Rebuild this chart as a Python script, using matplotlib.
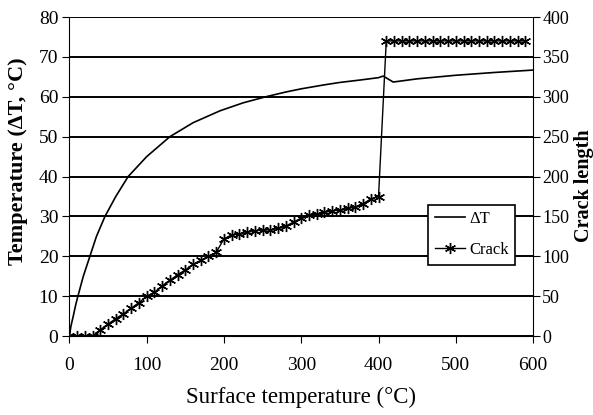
import numpy as np
import matplotlib.pyplot as plt

plt.rcParams['font.family'] = ['Liberation Serif', 'DejaVu Serif']

# Delta T curve (left axis)
dt_x = [0, 2, 5, 8, 11, 18, 26.5, 35, 46, 60, 76, 100, 130, 160, 195, 225, 254, 280, 300,
        330, 350, 376, 400, 406, 419, 450, 500, 550, 600]
dt_y = [0, 2.5, 5, 7.7, 10, 15, 20, 25, 30, 35, 40, 45, 50, 53.5, 56.5, 58.5, 60, 61.2, 62,
        63, 63.6, 64.2, 64.8, 65.2, 63.7, 64.5, 65.4, 66.1, 66.7]

# Crack length (right axis)
crack_x = list(range(0, 401, 10)) + list(range(410, 591, 10))
crack_y = [0, 0, 0, 0, 8, 15, 22, 28, 35, 42, 50, 55, 63, 70, 77, 83, 90, 95, 100, 105,
           122, 127, 128, 130, 132, 133, 133, 135, 138, 143, 148, 152, 153, 155, 157, 158,
           160, 162, 166, 172, 175] + [370] * 19

fig, ax = plt.subplots(figsize=(5.93, 4.15), dpi=100)
ax2 = ax.twinx()

l1, = ax.plot(dt_x, dt_y, color='black', lw=1.2, label='\u0394T')
l2, = ax2.plot(crack_x, crack_y, color='black', lw=1.0, marker=(6, 2, 0), ms=8,
               mec='black', mew=1.0, label='Crack')

ax.set_xlim(0, 600)
ax.set_ylim(0, 80)
ax2.set_ylim(0, 400)
ax.set_xticks(np.arange(0, 601, 100))
ax.set_yticks(np.arange(0, 81, 10))
ax2.set_yticks(np.arange(0, 401, 50))
ax.yaxis.grid(True, color='black', lw=1.4)
ax.set_axisbelow(True)

for a in (ax, ax2):
    a.tick_params(labelsize=14, direction='out', length=5, width=0.8, pad=3)
    a.spines['top'].set_visible(False)
ax2.tick_params(labelsize=13, pad=1.5)
ax.tick_params(axis='x', pad=10)
ax.spines['right'].set_visible(False)
ax2.spines['left'].set_visible(False)
ax2.spines['bottom'].set_visible(False)

ax.set_xlabel('Surface temperature (\u00b0C)', fontsize=16.5)
ax.xaxis.set_label_coords(0.5, -0.16)
ax.set_ylabel('Temperature (\u0394T, \u00b0C)', fontsize=16, fontweight='bold')
ax.yaxis.set_label_coords(-0.09, 0.549)
ax2.set_ylabel('Crack length', fontsize=14.5, fontweight='bold')
ax2.yaxis.set_label_coords(1.089, 0.473)

leg = ax2.legend(handles=[l1, l2], loc='lower left', bbox_to_anchor=(0.774, 0.223),
                 borderaxespad=0, fontsize=12, frameon=True, fancybox=False,
                 edgecolor='black', framealpha=1, handlelength=1.8, handletextpad=0.25,
                 borderpad=0.4, labelspacing=0.9)
leg.get_frame().set_linewidth(1.2)

plt.subplots_adjust(left=0.117, right=0.899, bottom=0.19, top=0.959)
plt.savefig('out.png', dpi=100)
